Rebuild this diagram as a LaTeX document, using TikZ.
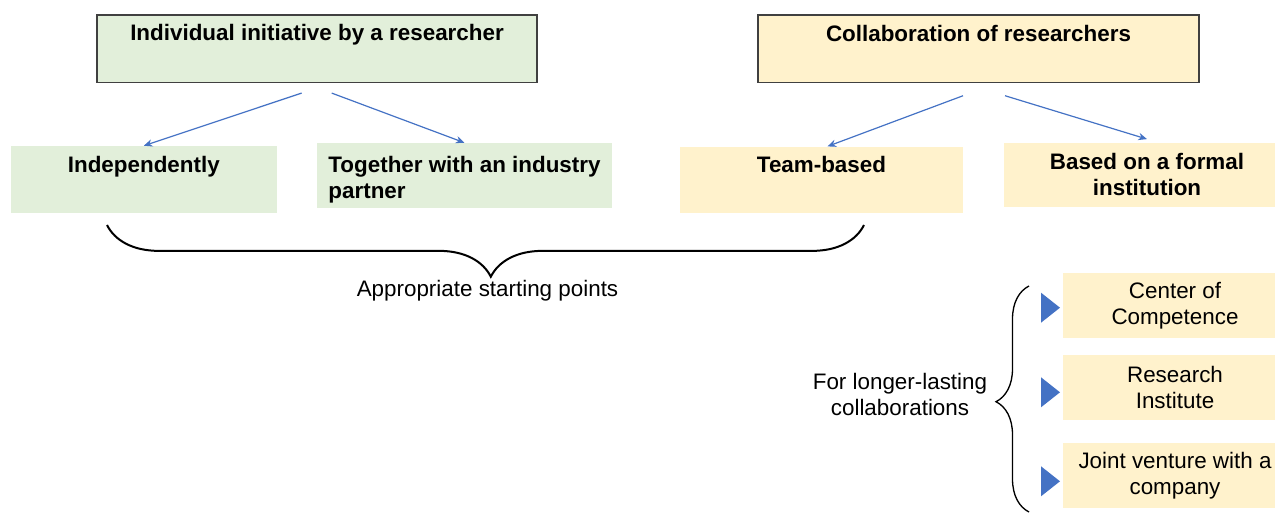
\documentclass[tikz,border=0pt]{standalone}
\usepackage{fontspec}
\setmainfont{Liberation Sans}
\usepackage{tikz}
\usetikzlibrary{positioning,arrows.meta,decorations.pathreplacing}
\definecolor{boxgreen}{HTML}{E2EFDA}
\definecolor{boxyellow}{HTML}{FFF2CC}
\definecolor{arrowblue}{HTML}{4472C4}
\definecolor{framegray}{HTML}{404040}
\newcommand{\figfont}{\fontsize{16.8}{19.5}\selectfont}

\begin{document}
\begin{tikzpicture}[x=0.75pt,y=0.75pt,font=\figfont,
  headbox/.style={draw=framegray,line width=1.2pt,minimum width=330pt,minimum height=50.8pt},
  smallbox/.style={fill=boxyellow,minimum width=168.75pt,minimum height=48.75pt,align=center},
  toptext/.style={anchor=north,inner sep=0pt,font=\figfont\bfseries},
  pointer/.style={draw=arrowblue,line width=0.9pt,-{Stealth[length=6.5pt,width=5.5pt]}},
  bigbrace/.style={decorate,decoration={brace,amplitude=#1},line width=1.5pt}]
\useasboundingbox (0,0) rectangle (1275,-513);
\clip (0,0) rectangle (1275,-513);

% the two starting situations
\node[headbox,fill=boxgreen,label={[toptext,yshift=-7.7pt]north:Individual initiative by a researcher}] (indiv) at (317,-48.8) {};
\node[headbox,fill=boxyellow,minimum width=330.75pt,label={[toptext,yshift=-8.5pt]north:Collaboration of researchers}] (collab) at (978.5,-48.8) {};

% second row
\node[fill=boxgreen,minimum width=199.7pt,minimum height=50.25pt,label={[toptext,yshift=-7.5pt]north:Independently}] (indep) at (143.8,-179.5) {};
\node[fill=boxgreen,minimum width=221.25pt,minimum height=48.75pt,label={[toptext,align=left,yshift=-10.3pt]north:{Together with an industry\\partner}}] (partner) at (464.5,-175.5) {};
\node[fill=boxyellow,minimum width=212.25pt,minimum height=50pt,label={[toptext,yshift=-7.5pt]north:Team-based}] (team) at (821.5,-180) {};
\node[fill=boxyellow,minimum width=214.5pt,minimum height=48pt,align=center,font=\figfont\bfseries] (formal) at (1147,-174.7) {Based on a formal\\institution};

\draw[pointer] ([xshift=-11.5pt,yshift=-7.2pt]indiv.south) -- (indep.north);
\draw[pointer] ([xshift=11pt,yshift=-7.2pt]indiv.south) -- (partner.north);
\draw[pointer] ([xshift=-11.6pt,yshift=-9.2pt]collab.south) -- ([xshift=4.5pt]team.north);
\draw[pointer] ([xshift=19.9pt,yshift=-9.2pt]collab.south) -- ([yshift=2.5pt]formal.north);

% brace under the row
\coordinate (braceleft) at (107,-225);
\coordinate (braceright) at (864,-225);
\draw[bigbrace=38.8pt,decoration={mirror,aspect=0.507}] (braceleft) -- (braceright);
\node (starting) at (487.5,-291) {Appropriate starting points};

% longer-lasting forms
\node[align=center] (longer) at (900,-394) {For longer-lasting\\collaborations};
\coordinate (bracebottom) at (1029,-512);
\coordinate (bracetop) at (1029,-286);
\draw[bigbrace=24.75pt,line width=1pt,decoration={aspect=0.488}] (bracebottom) -- (bracetop);

\fill[arrowblue] (1041,-292.7) -- (1060,-307.7) -- (1041,-322.7) -- cycle;
\fill[arrowblue] (1041,-377.3) -- (1060,-392.3) -- (1041,-407.3) -- cycle;
\fill[arrowblue] (1041,-466.3) -- (1060,-481.3) -- (1041,-496.3) -- cycle;

\node[smallbox] (competence) at (1175,-305.8) {Center of\\Competence};
\node[smallbox] (institute) at (1175,-387.2) {Research\\Institute};
\node[smallbox] (venture) at (1175,-475.8) {Joint venture with a\\company};
\end{tikzpicture}
\end{document}
